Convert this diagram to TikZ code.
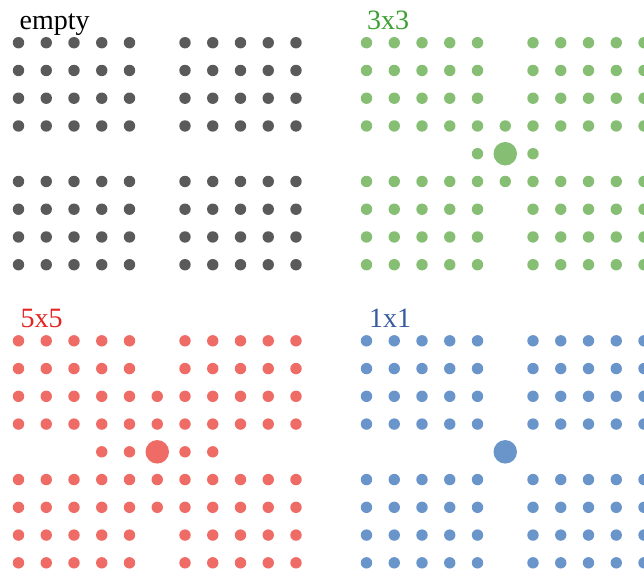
\documentclass[tikz,border=0pt]{standalone}
\usepackage{fontspec}
\setmainfont{Liberation Serif}
\definecolor{dotgray}{RGB}{90,90,90}
\definecolor{dotgreen}{RGB}{134,190,116}
\definecolor{dotred}{RGB}{239,107,101}
\definecolor{dotblue}{RGB}{106,149,202}
\definecolor{txtgreen}{RGB}{60,160,50}
\definecolor{txtred}{RGB}{228,35,35}
\definecolor{txtblue}{RGB}{55,90,160}
\newcommand\dotpanel[4]{%
  \foreach \i in {0,...,10}{%
    \foreach \j in {0,...,8}{%
      \pgfmathtruncatemacro\ok{((\i!=5)&&(\j!=4)) || ((\i==5)&&(\j!=4)&&(abs(\j-4)<=#4)) || ((\j==4)&&(\i!=5)&&(abs(\i-5)<=#4))}%
      \ifnum\ok=1 \fill[#3] ({#1+27.75*\i},{#2+27.75*\j}) circle (5.7);\fi
    }%
  }%
}
\begin{document}
\begin{tikzpicture}[x=1pt,y=-1pt,
  label/.style={anchor=base west,inner sep=0pt,font=\fontsize{28}{32}\selectfont},
  bigdot/.style={circle,inner sep=0pt,minimum size=23.5pt}]
\useasboundingbox (0,0) rectangle (644,571);
\clip (0,0) rectangle (644,571);
% panels
\dotpanel{18.5}{42.7}{dotgray}{-1}
\dotpanel{366.5}{42.7}{dotgreen}{1}
\node[bigdot,fill=dotgreen] (c3) at (505.25,153.7) {};
\dotpanel{18.5}{340.8}{dotred}{2}
\node[bigdot,fill=dotred] (c5) at (157.25,451.8) {};
\dotpanel{366.5}{340.8}{dotblue}{0}
\node[bigdot,fill=dotblue] (c1) at (505.25,451.8) {};
% labels
\node[label] (tempty) at (19.5,29) {empty};
\node[label,text=txtgreen] (t3) at (367,29.3) {3x3};
\node[label,text=txtred] (t5) at (20.5,327) {5x5};
\node[label,text=txtblue] (t1) at (369,327.3) {1x1};
\end{tikzpicture}
\end{document}
